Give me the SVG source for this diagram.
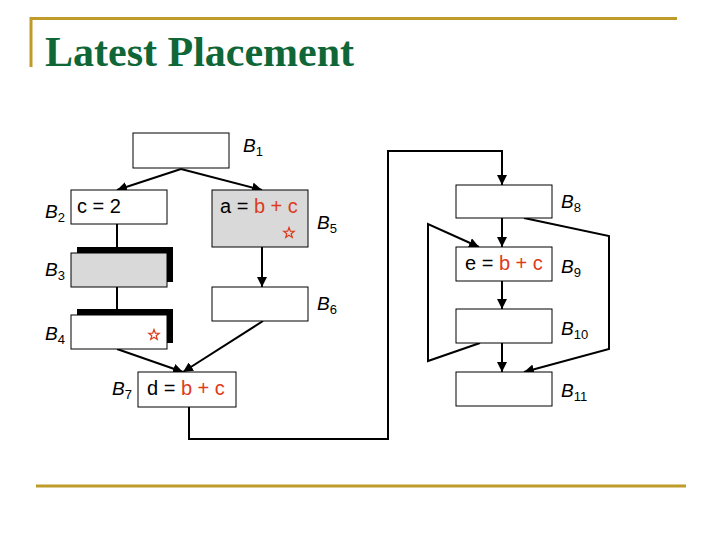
<svg xmlns="http://www.w3.org/2000/svg" width="720" height="540" viewBox="0 0 720 540">
<defs>
<style>
.frame{stroke:#bf9b2a;stroke-width:3;fill:none}
.title{font-family:"Liberation Serif","Times New Roman",serif;font-weight:bold;font-size:42px;fill:#0f6637}
.box{fill:#fff;stroke:#000;stroke-width:1}
.gray{fill:#d9d9d9;stroke:#000;stroke-width:1}
.shadow{fill:#000}
.code{font-family:"Liberation Sans",Arial,sans-serif;font-size:20px;fill:#000}
.red{fill:#dd3b1b}
.lbl{font-family:"Liberation Sans",Arial,sans-serif;font-size:19px;font-style:italic;fill:#000}
.sub{font-size:13px;font-style:normal}
.edge{stroke:#000;stroke-width:2;fill:none}
.star{fill:none;stroke:#dd3b1b;stroke-width:1.2;stroke-linejoin:miter}
</style>
<marker id="arr" viewBox="0 0 10 10" refX="10" refY="5" markerWidth="5" markerHeight="5" orient="auto" markerUnits="strokeWidth">
<path d="M0,0 L10,5 L0,10 z" fill="#000"/>
</marker>
<polygon id="starshape" points="0,-5.5 1.35,-1.86 5.23,-1.7 2.19,0.71 3.23,4.45 0,2.3 -3.23,4.45 -2.19,0.71 -5.23,-1.7 -1.35,-1.86"/>
</defs>
<rect width="720" height="540" fill="#fff"/>
<g id="frame">
<path class="frame" d="M31,67 V18.5 H677"/>
<line class="frame" x1="36" y1="486" x2="686" y2="486"/>
<text class="title" x="45" y="66">Latest Placement</text>
</g>
<g id="connectors">
<line class="edge" x1="181" y1="169" x2="117" y2="190" marker-end="url(#arr)"/>
<line class="edge" x1="181" y1="169" x2="262" y2="190" marker-end="url(#arr)"/>
<line class="edge" x1="117" y1="224" x2="117" y2="247"/>
<line class="edge" x1="117" y1="287" x2="117" y2="309"/>
<line class="edge" x1="262" y1="247" x2="262" y2="287" marker-end="url(#arr)"/>
<line class="edge" x1="117" y1="349" x2="183" y2="372" marker-end="url(#arr)"/>
<line class="edge" x1="263" y1="321" x2="183" y2="372" marker-end="url(#arr)"/>
<polyline class="edge" points="189,407 189,439 388,439 388,151 502,151 502,185" marker-end="url(#arr)"/>
<line class="edge" x1="502" y1="218" x2="502" y2="247" marker-end="url(#arr)"/>
<line class="edge" x1="502" y1="281" x2="502" y2="309" marker-end="url(#arr)"/>
<line class="edge" x1="502" y1="343" x2="502" y2="372" marker-end="url(#arr)"/>
<polyline class="edge" points="524,218 609,236 609,349 524,372" marker-end="url(#arr)"/>
<polyline class="edge" points="480,343 428,361 428,224 479,247" marker-end="url(#arr)"/>
</g>
<g id="B1">
<rect class="box" x="133" y="133" width="96" height="35"/>
<text class="lbl" x="243" y="152">B<tspan class="sub" dy="4">1</tspan></text>
</g>
<g id="B2">
<rect class="box" x="71" y="190" width="96" height="34"/>
<text class="code" x="77" y="213">c = 2</text>
<text class="lbl" x="45" y="218">B<tspan class="sub" dy="4">2</tspan></text>
</g>
<g id="B5">
<rect class="gray" x="212" y="190" width="96" height="57"/>
<text class="code" x="220" y="213">a = <tspan class="red">b + c</tspan></text>
<use href="#starshape" class="star" x="289" y="233"/>
<text class="lbl" x="317" y="229">B<tspan class="sub" dy="4">5</tspan></text>
</g>
<g id="B3">
<rect class="shadow" x="77" y="247" width="96" height="35"/>
<rect class="gray" x="71" y="253" width="96" height="34"/>
<text class="lbl" x="45" y="276">B<tspan class="sub" dy="4">3</tspan></text>
</g>
<g id="B4">
<rect class="shadow" x="77" y="309" width="96" height="34"/>
<rect class="box" x="71" y="315" width="96" height="34"/>
<use href="#starshape" class="star" x="154" y="335"/>
<text class="lbl" x="45" y="340">B<tspan class="sub" dy="4">4</tspan></text>
</g>
<g id="B6">
<rect class="box" x="212" y="287" width="96" height="34"/>
<text class="lbl" x="317" y="310">B<tspan class="sub" dy="4">6</tspan></text>
</g>
<g id="B7">
<rect class="box" x="138" y="372" width="98" height="35"/>
<text class="code" x="147" y="395">d = <tspan class="red">b + c</tspan></text>
<text class="lbl" x="112" y="395">B<tspan class="sub" dy="4">7</tspan></text>
</g>
<g id="B8">
<rect class="box" x="456" y="185" width="96" height="33"/>
<text class="lbl" x="561" y="208">B<tspan class="sub" dy="4">8</tspan></text>
</g>
<g id="B9">
<rect class="box" x="456" y="247" width="96" height="34"/>
<text class="code" x="465" y="270">e = <tspan class="red">b + c</tspan></text>
<text class="lbl" x="561" y="273">B<tspan class="sub" dy="4">9</tspan></text>
</g>
<g id="B10">
<rect class="box" x="456" y="309" width="96" height="34"/>
<text class="lbl" x="561" y="335">B<tspan class="sub" dy="4">10</tspan></text>
</g>
<g id="B11">
<rect class="box" x="456" y="372" width="96" height="34"/>
<text class="lbl" x="561" y="397">B<tspan class="sub" dy="4">11</tspan></text>
</g>
</svg>
